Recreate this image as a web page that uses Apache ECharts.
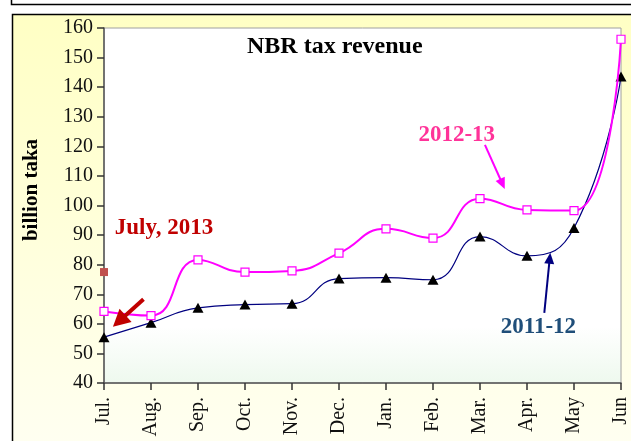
<!DOCTYPE html>
<html><head><meta charset="utf-8">
<script src="https://cdn.jsdelivr.net/npm/echarts@6/dist/echarts.min.js"></script>
<style>html,body{margin:0;padding:0;background:#fff}#c{width:631px;height:441px}</style>
</head><body><div id="c"></div>
<script>
const categories = ['Jul.', 'Aug.', 'Sep.', 'Oct.', 'Nov.', 'Dec.', 'Jan.', 'Feb.', 'Mar.', 'Apr.', 'May', 'Jun'];
const fy1213 = [64.2, 62.8, 81.6, 77.5, 77.9, 83.9, 92.1, 89.0, 102.3, 98.5, 98.3, 156.2];
const fy1112 = [55.5, 60.4, 65.4, 66.5, 66.8, 75.3, 75.6, 74.9, 89.5, 83.0, 92.4, 143.6];
const july2013 = [77.5];
const yMin = 40, yMax = 160, yStep = 10;
// annotation anchors in data space: [category index (fractional), value]
const noteTexts = ['July, 2013', '2012-13', '2011-12'];
const notePos = [[0.23, 92.4], [6.69, 123.9], [8.44, 59.0]];
const noteColors = ['#C00000', '#FF3399', '#1F4E79'];
const arrowFrom = [[0.84, 68.3], [8.105, 120.5], [9.368, 63.7]];
const arrowTo = [[0.19, 59.0], [8.526, 105.6], [9.495, 84.0]];
const arrowColors = ['#C00000', '#FF00FF', '#000080'];

const F = 'Liberation Serif';
const chart = echarts.init(document.getElementById('c'));

const option = {
  animation: false,
  backgroundColor: '#ffffff',
  grid: {
    left: 104, right: 4, top: 28, bottom: 58, show: true,
    backgroundColor: new echarts.graphic.LinearGradient(0, 0, 0, 1, [
      {offset: 0, color: '#ffffff'}, {offset: 0.84, color: '#ffffff'}, {offset: 1, color: '#EEF9EE'}
    ]),
    borderColor: '#a0a0a0', borderWidth: 1
  },
  xAxis: {
    type: 'category', data: categories, boundaryGap: false,
    axisLine: {lineStyle: {color: '#555', width: 1.5}},
    axisTick: {show: true, length: 7, lineStyle: {color: '#333', width: 1.5}},
    axisLabel: {rotate: 90, margin: 14, interval: 0, fontFamily: F, fontSize: 20, color: '#111'},
    splitLine: {show: false}
  },
  yAxis: {
    type: 'value', min: yMin, max: yMax, interval: yStep,
    axisLine: {show: true, lineStyle: {color: '#555', width: 1.5}},
    axisTick: {show: true, length: 7, lineStyle: {color: '#333', width: 1.5}},
    axisLabel: {margin: 11, fontFamily: F, fontSize: 20, color: '#111'},
    splitLine: {show: false}
  },
  series: [
    {
      name: '2011-12', type: 'line', data: fy1112, smooth: 0.5,
      symbol: 'triangle', symbolSize: [11, 10],
      itemStyle: {color: '#000000'},
      lineStyle: {color: '#000080', width: 1.2},
      z: 2
    },
    {
      name: '2012-13', type: 'line', data: fy1213, smooth: 0.5,
      symbol: 'rect', symbolSize: 8,
      itemStyle: {color: '#ffffff', borderColor: '#FF00FF', borderWidth: 1.2},
      lineStyle: {color: '#FF00FF', width: 2},
      z: 3
    },
    {
      name: 'July, 2013', type: 'line', data: july2013,
      symbol: 'rect', symbolSize: 8,
      itemStyle: {color: '#C0504D'},
      lineStyle: {width: 0},
      z: 4
    }
  ],
  graphic: [
    {type: 'rect', z: -10, silent: true,
      shape: {x: 12.5, y: 14.5, width: 640, height: 440},
      style: {stroke: '#000', lineWidth: 1.5,
        fill: new echarts.graphic.LinearGradient(0, 0, 0, 1, [
          {offset: 0, color: '#FFFFC4'}, {offset: 1, color: '#FFFFF2'}
        ])}},
    {type: 'polyline', z: -10, silent: true,
      shape: {points: [[11.5, 0], [11.5, 4.5], [640, 4.5]]},
      style: {stroke: '#000', lineWidth: 1.5, fill: null}},
    {type: 'text', left: 247, top: 35, z: 10,
      style: {text: 'NBR tax revenue', font: 'bold 24px "Liberation Serif"', fill: '#000'}},
    {type: 'text', x: 32, y: 190, rotation: Math.PI / 2, z: 10,
      style: {text: 'billion taka', font: 'bold 21px "Liberation Serif"', fill: '#000', align: 'center', verticalAlign: 'middle'}}
  ]
};
chart.setOption(option);

function toPx(pt) {
  const a = chart.convertToPixel({xAxisIndex: 0, yAxisIndex: 0}, [0, pt[1]]);
  const b = chart.convertToPixel({xAxisIndex: 0, yAxisIndex: 0}, [categories.length - 1, pt[1]]);
  const x = a[0] + (b[0] - a[0]) * pt[0] / (categories.length - 1);
  return [x, a[1]];
}
const extra = [];
noteTexts.forEach(function (t, i) {
  const p = toPx(notePos[i]);
  extra.push({type: 'text', x: p[0], y: p[1], z: 10,
    style: {text: t, font: 'bold 23px "Liberation Serif"', fill: noteColors[i], verticalAlign: 'middle'}});
});
const headSpec = [[17, 9, 4], [11, 5, 2], [11, 5, 2]];
arrowFrom.forEach(function (f, i) {
  const p0 = toPx(f), p1 = toPx(arrowTo[i]);
  const dx = p1[0] - p0[0], dy = p1[1] - p0[1];
  const L = Math.sqrt(dx * dx + dy * dy), ux = dx / L, uy = dy / L;
  const hl = headSpec[i][0], hw = headSpec[i][1];
  const bx = p1[0] - ux * hl, by = p1[1] - uy * hl;
  extra.push({type: 'line', z: 10,
    shape: {x1: p0[0], y1: p0[1], x2: bx + ux * 2, y2: by + uy * 2},
    style: {stroke: arrowColors[i], lineWidth: headSpec[i][2]}});
  extra.push({type: 'polygon', z: 10,
    shape: {points: [[p1[0], p1[1]], [bx - uy * hw, by + ux * hw], [bx + uy * hw, by - ux * hw]]},
    style: {fill: arrowColors[i]}});
});
chart.setOption({graphic: option.graphic.concat(extra)});
</script>
</body></html>
